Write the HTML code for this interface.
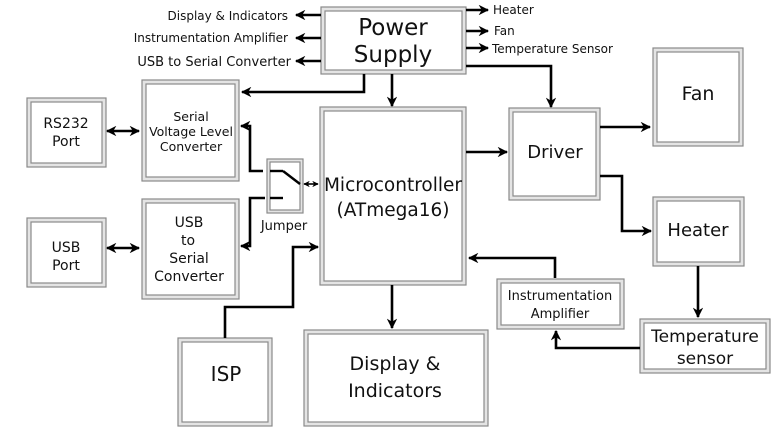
<!DOCTYPE html>
<html><head><meta charset="utf-8"><style>
html,body{margin:0;padding:0;background:#fff}
svg{display:block}
text{font-family:"DejaVu Sans","Liberation Sans",sans-serif;fill:#111}
</style></head><body>
<svg width="778" height="431" viewBox="0 0 778 431" xmlns="http://www.w3.org/2000/svg">
<defs>
<marker id="a" viewBox="0 0 10 10" refX="9" refY="5" markerWidth="4" markerHeight="4" orient="auto-start-reverse"><path d="M0,0 L10,5 L0,10 L3,5 z" fill="#000"/></marker>
</defs>
<g fill="#e4e4e4" stroke="#8a8a8a" stroke-width="1.2">
<rect x="321" y="7" width="145" height="67"/>
<rect x="142" y="80" width="97" height="101"/>
<rect x="27" y="98" width="79" height="69"/>
<rect x="27" y="218" width="79" height="69"/>
<rect x="142" y="199" width="97" height="100"/>
<rect x="267" y="159" width="36" height="54"/>
<rect x="320" y="107" width="146" height="178"/>
<rect x="509" y="108" width="91" height="92"/>
<rect x="653" y="48" width="90" height="98"/>
<rect x="653" y="197" width="91" height="69"/>
<rect x="640" y="319" width="130" height="54"/>
<rect x="497" y="279" width="127" height="50"/>
<rect x="178" y="338" width="94" height="88"/>
<rect x="304" y="330" width="184" height="96"/>
</g>
<g fill="#fff" stroke="#8a8a8a" stroke-width="1.2">
<rect x="325" y="11" width="137" height="59"/>
<rect x="146" y="84" width="89" height="93"/>
<rect x="31" y="102" width="71" height="61"/>
<rect x="31" y="222" width="71" height="61"/>
<rect x="146" y="203" width="89" height="92"/>
<rect x="270" y="162" width="30" height="48"/>
<rect x="324" y="111" width="138" height="170"/>
<rect x="513" y="112" width="83" height="84"/>
<rect x="657" y="52" width="82" height="90"/>
<rect x="657" y="201" width="83" height="61"/>
<rect x="644" y="323" width="122" height="46"/>
<rect x="501" y="283" width="119" height="42"/>
<rect x="182" y="342" width="86" height="80"/>
<rect x="308" y="334" width="176" height="88"/>
</g>
<g stroke="#000" stroke-width="2.6" fill="none" marker-end="url(#a)">
<path d="M321 15 H296"/><path d="M321 38 H296"/><path d="M321 61 H296"/>
<path d="M466 10 H488"/><path d="M466 31 H488"/><path d="M466 48 H488"/>
<path d="M364 74 V92 H242"/>
<path d="M392 74 V106"/>
<path d="M466 66 H551 V107"/>
<path d="M107 131 H139" marker-start="url(#a)"/>
<path d="M107 248 H139" marker-start="url(#a)"/>
<path d="M263 171 H250 V126 H241"/>
<path d="M265 198 H250 V246 H241"/>
<path d="M304 184 H318" marker-start="url(#a)" stroke-width="1.6"/>
<path d="M225 338 V307 H293 V247 H318"/>
<path d="M466 152 H507"/>
<path d="M600 127 H650"/>
<path d="M600 176 H622 V231 H651"/>
<path d="M698 266 V317"/>
<path d="M640 348 H556 V331"/>
<path d="M555 278 V258 H469"/>
<path d="M392 285 V328"/>
</g>
<g stroke="#000" stroke-width="2.4">
<line x1="270" y1="171" x2="283" y2="171"/>
<line x1="283" y1="171" x2="300" y2="184"/>
<line x1="270" y1="198" x2="283" y2="198"/>
</g>
<g font-size="12" text-anchor="end">
<text x="288" y="20">Display &amp; Indicators</text>
<text x="288" y="42">Instrumentation Amplifier</text>
<text x="291" y="66" font-size="13">USB to Serial Converter</text>
</g>
<g font-size="12">
<text x="493" y="14">Heater</text>
<text x="494" y="35">Fan</text>
<text x="492" y="53">Temperature Sensor</text>
</g>
<g text-anchor="middle">
<text x="393" y="35" font-size="23">Power</text>
<text x="393" y="62" font-size="23">Supply</text>
<text x="191" y="121" font-size="12.5">Serial</text>
<text x="191" y="136" font-size="12.5">Voltage Level</text>
<text x="191" y="151" font-size="12.5">Converter</text>
<text x="66" y="128" font-size="14">RS232</text>
<text x="66" y="146" font-size="14">Port</text>
<text x="66" y="252" font-size="14">USB</text>
<text x="66" y="270" font-size="14">Port</text>
<text x="189" y="227" font-size="14">USB</text>
<text x="188" y="245" font-size="14">to</text>
<text x="189" y="263" font-size="14">Serial</text>
<text x="189" y="281" font-size="14">Converter</text>
<text x="284" y="230" font-size="13">Jumper</text>
<text x="393" y="191" font-size="18.5">Microcontroller</text>
<text x="393" y="216" font-size="18.5">(ATmega16)</text>
<text x="555" y="158" font-size="18">Driver</text>
<text x="698" y="100" font-size="19">Fan</text>
<text x="698" y="236" font-size="18">Heater</text>
<text x="705" y="342" font-size="17">Temperature</text>
<text x="705" y="364" font-size="17">sensor</text>
<text x="560" y="300" font-size="13">Instrumentation</text>
<text x="560" y="318" font-size="13">Amplifier</text>
<text x="226" y="381" font-size="20">ISP</text>
<text x="395" y="370" font-size="19">Display &amp;</text>
<text x="395" y="397" font-size="19">Indicators</text>
</g>
</svg>
</body></html>
